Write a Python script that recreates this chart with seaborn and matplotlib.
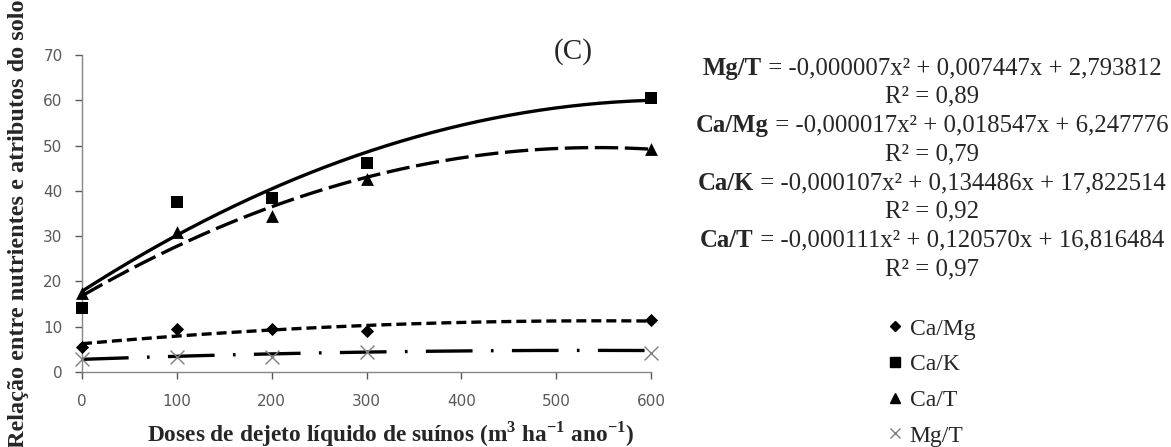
import numpy as np
import pandas as pd
import matplotlib
matplotlib.use("Agg")
import matplotlib.pyplot as plt
from matplotlib.lines import Line2D
import seaborn as sns

sns.set_theme(style="white")
plt.rcParams["font.family"] = ["DejaVu Sans"]

# Observed ratios at each dose
doses = [0, 100, 200, 300, 600]
ca_mg = [5.6, 9.4, 9.5, 9.0, 11.5]
ca_k = [14.1, 37.6, 38.5, 46.1, 60.4]
ca_t = [17.4, 31.0, 34.5, 42.6, 49.3]
mg_t = [2.8, 3.4, 3.4, 4.4, 4.2]

# Quadratic fits (a, b, c) for y = a x^2 + b x + c
fit_mg_t = (-0.000007, 0.007447, 2.793812)
fit_ca_mg = (-0.000017, 0.018547, 6.247776)
fit_ca_k = (-0.000107, 0.134486, 17.822514)
fit_ca_t = (-0.000111, 0.120570, 16.816484)

series_names = ["Ca/Mg", "Ca/K", "Ca/T", "Mg/T"]
x_ticks = [0, 100, 200, 300, 400, 500, 600]
y_ticks = [0, 10, 20, 30, 40, 50, 60, 70]

serif = "Liberation Serif"
gray = "#595959"
plt.rcParams["mathtext.fontset"] = "custom"
plt.rcParams["mathtext.rm"] = serif
plt.rcParams["mathtext.bf"] = serif + ":bold"

fig = plt.figure(figsize=(11.71, 4.47), dpi=100)
ax = fig.add_axes([82 / 1171, 1 - 372 / 447, (651 - 82) / 1171, (372 - 55) / 447])

xs = np.linspace(0, 600, 300)
curves = [
    ("Ca/K", fit_ca_k, "-", 2.4),
    ("Ca/T", fit_ca_t, (0, (7, 2)), 2.4),
    ("Ca/Mg", fit_ca_mg, (0, (3, 1.5)), 2.4),
    ("Mg/T", fit_mg_t, (0, (14, 5.5, 0.8, 5.5)), 2.4),
]
for name, (a, b, c), ls, lw in curves:
    df = pd.DataFrame({"x": xs, "y": a * xs ** 2 + b * xs + c})
    sns.lineplot(data=df, x="x", y="y", ax=ax, color="black", linestyle=ls,
                 linewidth=lw, legend=False)

points = [
    ("Ca/Mg", ca_mg, "D", 45, "black"),
    ("Ca/K", ca_k, "s", 85, "black"),
    ("Ca/T", ca_t, "^", 85, "black"),
    ("Mg/T", mg_t, "x", 100, "#7f7f7f"),
]
for name, vals, mk, size, col in points:
    df = pd.DataFrame({"x": doses, "y": vals})
    sns.scatterplot(data=df, x="x", y="y", ax=ax, marker=mk, s=size, color=col,
                    edgecolor=col if mk != "x" else None, linewidth=1.0 if mk == "x" else 0,
                    legend=False, zorder=5, clip_on=False)

ax.set_xlim(0, 600)
ax.set_ylim(0, 70)
ax.set_xticks(x_ticks)
ax.set_yticks(y_ticks)
ax.tick_params(axis="both", colors=gray, labelsize=11, length=5, width=1,
               direction="out", bottom=True, left=True)
ax.tick_params(axis="x", pad=11)
ax.tick_params(axis="y", pad=9)
for lab in ax.get_xticklabels() + ax.get_yticklabels():
    lab.set_color(gray)
ax.spines["top"].set_visible(False)
ax.spines["right"].set_visible(False)
for sp in ("left", "bottom"):
    ax.spines[sp].set_color("#868686")
    ax.spines[sp].set_linewidth(1.0)
ax.set_xlabel("")
ax.set_ylabel("")

fig.text(0.016, 0.5, "Relação entre nutrientes e atributos do solo", rotation=90,
         ha="center", va="center", fontsize=17.5, fontweight="bold", family=serif)
fig.text(391 / 1171, 1 - 434 / 447,
         r"Doses de dejeto líquido de suínos (m$^\mathbf{3}$ ha$^\mathbf{-1}$ ano$^\mathbf{-1}$)",
         ha="center", va="center", fontsize=16.8, fontweight="bold", family=serif)
fig.text(573 / 1171, 1 - 52 / 447, "(C)", ha="center", va="center",
         fontsize=21, family=serif)

# Regression equations
eq_lines = [
    ("Mg/T", fit_mg_t, "0,89"),
    ("Ca/Mg", fit_ca_mg, "0,79"),
    ("Ca/K", fit_ca_k, "0,92"),
    ("Ca/T", fit_ca_t, "0,97"),
]


def fmt(v):
    return f"{v:.6f}".replace(".", ",")


eq_size = 17.8
y0 = 68
for i, (name, (a, b, c), r2) in enumerate(eq_lines):
    ypx = y0 + i * 57.5
    xc = 932 / 1171
    rest = f" = -{fmt(-a)}x² + {fmt(b)}x + {fmt(c)}"
    # bold series name followed by the regular-weight formula
    t1 = fig.text(xc, 1 - ypx / 447, name, ha="left", va="center",
                  fontsize=eq_size, family=serif, fontweight="bold")
    t2 = fig.text(xc, 1 - ypx / 447, rest, ha="left", va="center",
                  fontsize=eq_size, family=serif)
    fig.canvas.draw()
    r = fig.canvas.get_renderer()
    w1 = t1.get_window_extent(r).width
    w2 = t2.get_window_extent(r).width
    left = 932 - (w1 + w2) / 2
    t1.set_x(left / 1171)
    t2.set_x((left + w1) / 1171)
    fig.text(xc, 1 - (ypx + 28.5) / 447, "R² = " + r2, ha="center",
             va="center", fontsize=eq_size, family=serif)

# Legend
handles = [
    Line2D([], [], linestyle="none", marker="D", markersize=5, color="black"),
    Line2D([], [], linestyle="none", marker="s", markersize=7, color="black"),
    Line2D([], [], linestyle="none", marker="^", markersize=7, color="black"),
    Line2D([], [], linestyle="none", marker="x", markersize=7, color="#7f7f7f"),
]
fig.legend(handles, series_names, loc="upper left",
           bbox_to_anchor=(880 / 1171, 1 - 311 / 447), frameon=False,
           handlelength=0.7, handletextpad=0.25, labelspacing=0.6,
           borderaxespad=0, borderpad=0.3,
           prop={"family": serif, "size": 17})

fig.savefig("out.png", dpi=100)
